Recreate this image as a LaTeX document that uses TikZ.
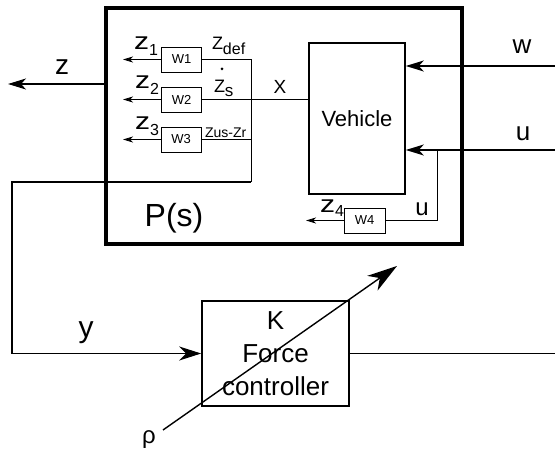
\documentclass[tikz,border=0pt]{standalone}
\usepackage{fontspec}
\setmainfont{Liberation Sans}
\usetikzlibrary{arrows.meta}
\newcommand{\fs}[1]{\fontsize{#1}{#1}\selectfont}
\newcommand{\zsb}[3]{#1\raisebox{-#3}{\fs{16}#2}}
\newcommand{\wz}{\scalebox{1.25}[1]{z}}
\begin{document}
\begin{tikzpicture}[x=1pt,y=-1pt,
  line width=1.2pt,
  box/.style={draw, line width=1.6pt, inner sep=0pt},
  wbox/.style={draw, line width=0.8pt, minimum width=40pt, minimum height=25pt, inner sep=0pt, font=\fs{13}},
  thinline/.style={line width=0.8pt},
  bigarrow/.style={-{Stealth[length=18pt,width=11pt,inset=5pt]}},
  inarrow/.style={-{Stealth[length=22pt,width=14pt,inset=7pt]}},
  smallarrow/.style={-{Stealth[length=10pt,width=6pt,inset=3pt]}, line width=0.8pt},
  diagarrow/.style={line width=1.4pt, -{Stealth[length=30pt,width=18pt,inset=9pt]}},
  lbl/.style={inner sep=0pt, outer sep=0pt}
]
\useasboundingbox (0,0) rectangle (555,457);

% blocks
\node[draw, line width=4pt, minimum width=356pt, minimum height=236pt, inner sep=0pt] (P) at (284,126) {};
\node[box, minimum width=96pt, minimum height=151pt, font=\fs{22}] (V) at (357,118.5) {Vehicle};
\node[wbox] (W1) at (181.5,59.5) {W1};
\node[wbox] (W2) at (181.5,99.5) {W2};
\node[wbox] (W3) at (181,139.5) {W3};
\node[wbox, minimum width=41pt] (W4) at (364.5,220.5) {W4};
\node[box, minimum width=147pt, minimum height=105pt, align=center, font=\fontsize{26}{33}\selectfont] (K) at (275.5,353.5) {K\\Force\\controller};

% coordinates
\coordinate (win) at (555,66);
\coordinate (uin) at (555,150);
\coordinate (ub) at (437,150);
\coordinate (z4e) at (306,220.5);
\coordinate (jn) at (251,182);
\coordinate (fb) at (12,182);
\coordinate (z1e) at (123,59.5);
\coordinate (z2e) at (123,99.5);
\coordinate (z3e) at (123,139.5);
\coordinate (zo) at (8,84);
\coordinate (ko) at (555,356);
\coordinate (rs) at (163,430);
\coordinate (re) at (397,266);

% connectors
\draw[bigarrow] (win) -- (win -| V.east);
\draw[bigarrow] (uin) -- (uin -| V.east);
\draw[thinline] (ub) |- (W4.east);
\draw[smallarrow] (W4.west) -- (z4e);
\draw[smallarrow] (W1.west) -- (z1e);
\draw[smallarrow] (W2.west) -- (z2e);
\draw[smallarrow] (W3.west) -- (z3e);
\draw[thinline] (W1.east) -| (jn);
\draw[thinline] (W3.east) -- (W3.east -| jn);
\draw (W2.east) -- (W2.east -| V.west);
\draw[inarrow] (jn) -- (fb) |- (K.west);
\draw[bigarrow] (zo -| P.west) -- (zo);
\draw (K.east) -- (K.east -| ko);
\draw[diagarrow] (rs) -- (re);

% labels
\node[lbl, font=\fs{28}] (zl) at (62,67) {z};
\node[lbl, font=\fs{26}] (wl) at (522,47) {w};
\node[lbl, font=\fs{26}] (ul) at (523,134) {u};
\node[lbl, font=\fs{24}] (ul2) at (422,209) {u};
\node[lbl, font=\fs{19}] (xl) at (280,87) {X};
\node[lbl, font=\fs{32}, anchor=base] (pl) at (174,227) {P(s)};
\node[lbl, font=\fs{30}, anchor=base] (yl) at (86,338) {y};
\node[lbl, font=\fs{24}] (rl) at (149,440) {ρ};
\node[lbl, font=\fs{24}, anchor=base west] (z1l) at (134,50) {\zsb{\wz}{1}{6pt}};
\node[lbl, font=\fs{24}, anchor=base west] (z2l) at (135,89) {\zsb{\wz}{2}{6pt}};
\node[lbl, font=\fs{24}, anchor=base west] (z3l) at (135,130) {\zsb{\wz}{3}{6pt}};
\node[lbl, font=\fs{24}, anchor=base west] (z4l) at (320,213) {\zsb{\wz}{4}{4pt}};
\node[lbl, font=\fs{18}, anchor=base west] (zdl) at (212,50) {\zsb{Z}{def}{5pt}};
\node[lbl, font=\fs{18}, anchor=base west] (zsl) at (214,93) {Z\raisebox{-4pt}{\fs{17}s}};
\node[fill, circle, inner sep=0pt, minimum size=3pt] (zdot) at (222,69) {};
\node[lbl, font=\fs{14}, anchor=base west] (zul) at (205,138) {Zus-Zr};
\end{tikzpicture}
\end{document}
